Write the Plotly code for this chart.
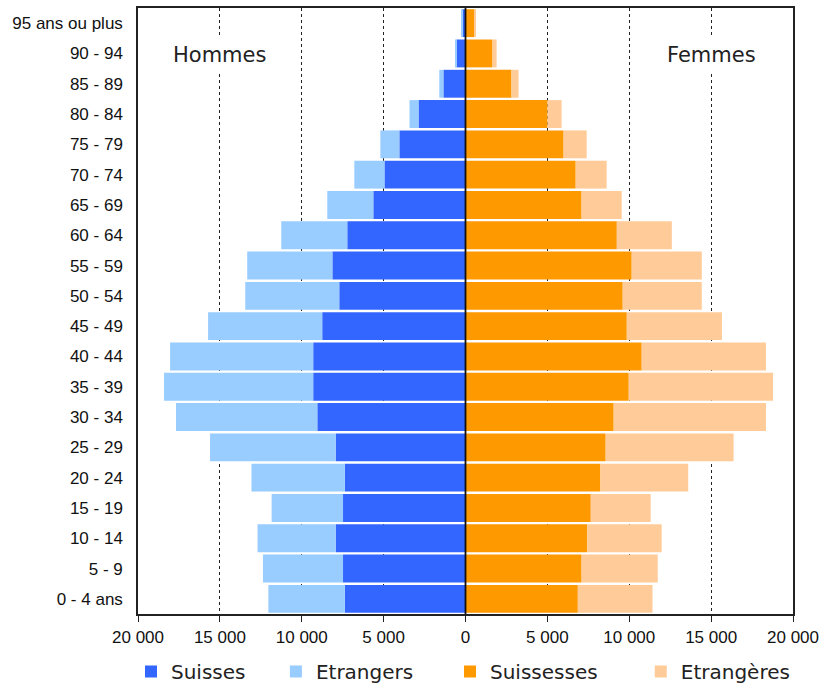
import plotly.graph_objects as go

# Age groups, bottom to top
ages = ["0 - 4 ans", "5 - 9", "10 - 14", "15 - 19", "20 - 24", "25 - 29", "30 - 34",
        "35 - 39", "40 - 44", "45 - 49", "50 - 54", "55 - 59", "60 - 64", "65 - 69",
        "70 - 74", "75 - 79", "80 - 84", "85 - 89", "90 - 94", "95 ans ou plus"]

# Men
suisses = [7370, 7480, 7930, 7480, 7370, 7930, 9050, 9300, 9300, 8750, 7710, 8130,
           7220, 5630, 4950, 4040, 2870, 1350, 550, 200]
etrangers = [4670, 4890, 4770, 4360, 5700, 7670, 8630, 9110, 8740, 6970, 5740, 5200,
             4030, 2810, 1840, 1160, 550, 250, 50, 30]
# Women
suissesses = [6860, 7090, 7440, 7650, 8240, 8560, 9050, 9970, 10760, 9850, 9600, 10150,
              9240, 7090, 6730, 5990, 5010, 2810, 1650, 550]
etrangeres = [4560, 4650, 4540, 3660, 5360, 7810, 9300, 8810, 7590, 5810, 4830, 4280,
              3360, 2450, 1890, 1410, 860, 430, 250, 50]

tick_vals = [-20000, -15000, -10000, -5000, 0, 5000, 10000, 15000, 20000]
tick_text = ["20 000", "15 000", "10 000", "5 000", "0", "5 000", "10 000", "15 000", "20 000"]

FONT = "DejaVu Sans"
TICKFONT = "Liberation Sans, Arial"
NB = "\u00a0"  # non-breaking space used to widen legend entries

fig = go.Figure()
fig.add_trace(go.Bar(y=ages, x=[-v for v in suisses], orientation="h", name="Suisses" + NB * 4,
                     marker=dict(color="#3366FF", line=dict(width=0)),
                     customdata=suisses, hovertemplate="%{y}: %{customdata}<extra>Suisses</extra>"))
fig.add_trace(go.Bar(y=ages, x=[-v for v in etrangers], orientation="h", name="Etrangers" + NB * 5,
                     marker=dict(color="#99CCFF", line=dict(width=0)),
                     customdata=etrangers, hovertemplate="%{y}: %{customdata}<extra>Etrangers</extra>"))
fig.add_trace(go.Bar(y=ages, x=suissesses, orientation="h", name="Suissesses" + NB * 6,
                     marker=dict(color="#FF9900", line=dict(width=0)),
                     hovertemplate="%{y}: %{x}<extra>Suissesses</extra>"))
fig.add_trace(go.Bar(y=ages, x=etrangeres, orientation="h", name="Etrangères",
                     marker=dict(color="#FFCC99", line=dict(width=0)),
                     hovertemplate="%{y}: %{x}<extra>Etrangères</extra>"))

# figure is a little taller than the window so the legend box never forces the plot upward
fig.update_layout(
    barmode="relative",
    bargap=0.08,
    width=823, height=702,
    margin=dict(l=138, r=30, t=8, b=88),
    paper_bgcolor="white", plot_bgcolor="white",
    font=dict(family=FONT, color="#111111"),
    showlegend=True,
    legend=dict(orientation="h", x=-0.0107, xanchor="left", xref="paper",
                y=-0.0627, yanchor="top", font=dict(size=20, family=FONT, color="#222222"),
                traceorder="normal"),
    xaxis=dict(range=[-20000, 20000], tickvals=tick_vals, ticktext=tick_text,
               tickfont=dict(size=17, family=TICKFONT, color="#111111"),
               showgrid=True, gridcolor="#222222", griddash="3px,3px", gridwidth=1.3,
               zeroline=False, showline=True, linecolor="#222222", linewidth=1.5,
               mirror=True, ticks="outside", ticklen=6, tickcolor="#222222", tickwidth=1.3,
               ticklabelstandoff=1, automargin=False, fixedrange=True),
    yaxis=dict(tickfont=dict(size=17, family=TICKFONT, color="#111111"),
               showgrid=False, showline=True, linecolor="#222222", linewidth=1.5,
               mirror=True, ticks="", ticklabelstandoff=10, automargin=False, fixedrange=True),
)

# center axis line at zero, drawn above the bars
fig.add_shape(type="line", xref="x", yref="paper", x0=0, x1=0, y0=0, y1=1,
              line=dict(color="#111111", width=1.8), layer="above")

fig.add_annotation(x=-15000, y="90 - 94", text="Hommes", showarrow=False,
                   font=dict(size=21, family=FONT, color="#222222"),
                   bgcolor="white", borderpad=5, yshift=-2)
fig.add_annotation(x=15000, y="90 - 94", text="Femmes", showarrow=False,
                   font=dict(size=21, family=FONT, color="#222222"),
                   bgcolor="white", borderpad=5, yshift=-2)

# remove the default 8px page margin so the figure fills the window exactly
fig.write_html("out.html", config={"displayModeBar": False},
               post_script="document.body.style.margin='0';document.body.style.overflow='hidden';")
